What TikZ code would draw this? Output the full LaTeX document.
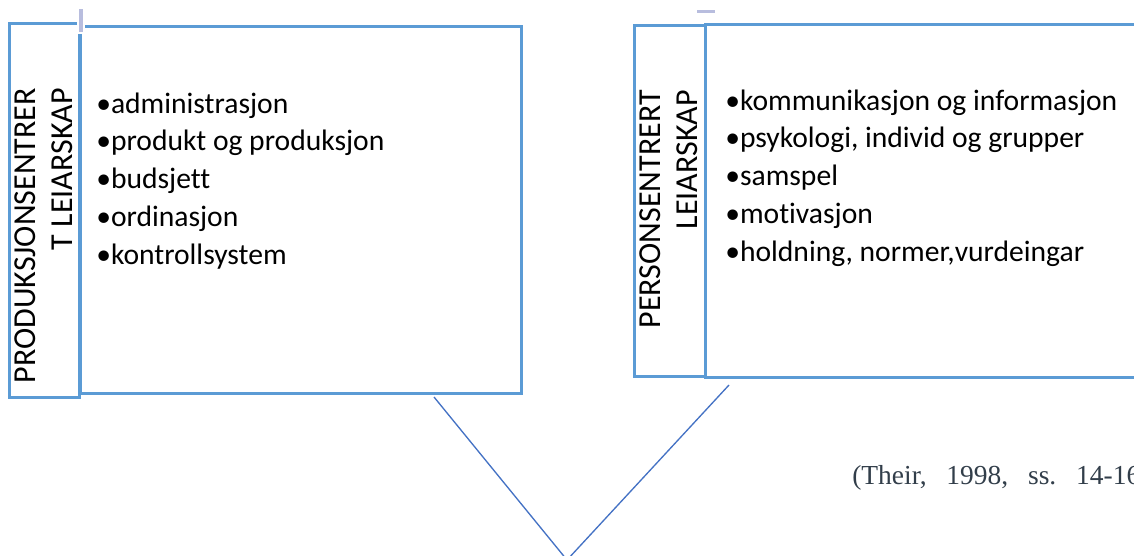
\documentclass[tikz,border=0pt]{standalone}
\usepackage{fontspec}
\setmainfont{Carlito}[Ligatures=NoCommon]
\newfontfamily\citefont{Liberation Serif}
\frenchspacing
\definecolor{boxblue}{RGB}{91,155,213}
\definecolor{lineblue}{RGB}{68,114,196}
\definecolor{markgrey}{RGB}{184,189,222}
\definecolor{citegrey}{RGB}{50,62,74}
\tikzset{
  box/.style={draw=boxblue,line width=2.25pt},
  link/.style={draw=lineblue,line width=1pt},
  tick/.style={fill=markgrey,draw=white,line width=1.5pt},
  itemtext/.style={font=\fontsize{22.2}{28.3}\selectfont,inner sep=0pt,align=left,anchor=base west},
  sidetext/.style={font=\fontsize{24}{27.6}\selectfont,inner sep=0pt,align=right,rotate=90,anchor=base east},
}
\begin{document}
\begin{tikzpicture}[x=0.75pt,y=-0.75pt]
              \useasboundingbox (0,0) rectangle (1134,556);
              % left pair
              \path[box] (9,24) rectangle (79,397);
              \path[box] (80,27) rectangle (521,393);
              \path[tick] (77.5,8) rectangle (83.5,33);
              \node[sidetext] (prodlabel) at (72,88) {PRODUKSJONSENTRER\\T LEIARSKAP};
              \node[itemtext] (prodlist) at (96,264)
              {•administrasjon\\•produkt og produksjon\\•budsjett\\•ordinasjon\\•kontrollsystem};
              % right pair
              \path[box] (634,26) rectangle (705,376);
              \path[box] (705,25) rectangle (1140,377);
              \path[tick] (696,9) rectangle (716,14);
              \node[sidetext] (perslabel) at (697,90) {PERSONSENTRERT\\LEIARSKAP};
              \node[itemtext] (perslist) at (725,261)
              {•kommunikasjon og informasjon\\•psykologi, individ og grupper\\•samspel\\•motivasjon\\•holdning, normer,vurdeingar};
              % v shape
              \coordinate (prodfoot) at (434,397);
              \coordinate (persfoot) at (729,385);
              \coordinate (apex) at (567,560);
              \path[link] (prodfoot)--(apex);
              \path[link] (persfoot)--(apex);
              \node[anchor=base west,inner sep=0pt,text=citegrey,font=\citefont\fontsize{20.6}{25}\selectfont] (cite) at (852,484)
              {\makebox[216pt][s]{(Their, 1998, ss. 14-16}};
            \end{tikzpicture}
\end{document}
